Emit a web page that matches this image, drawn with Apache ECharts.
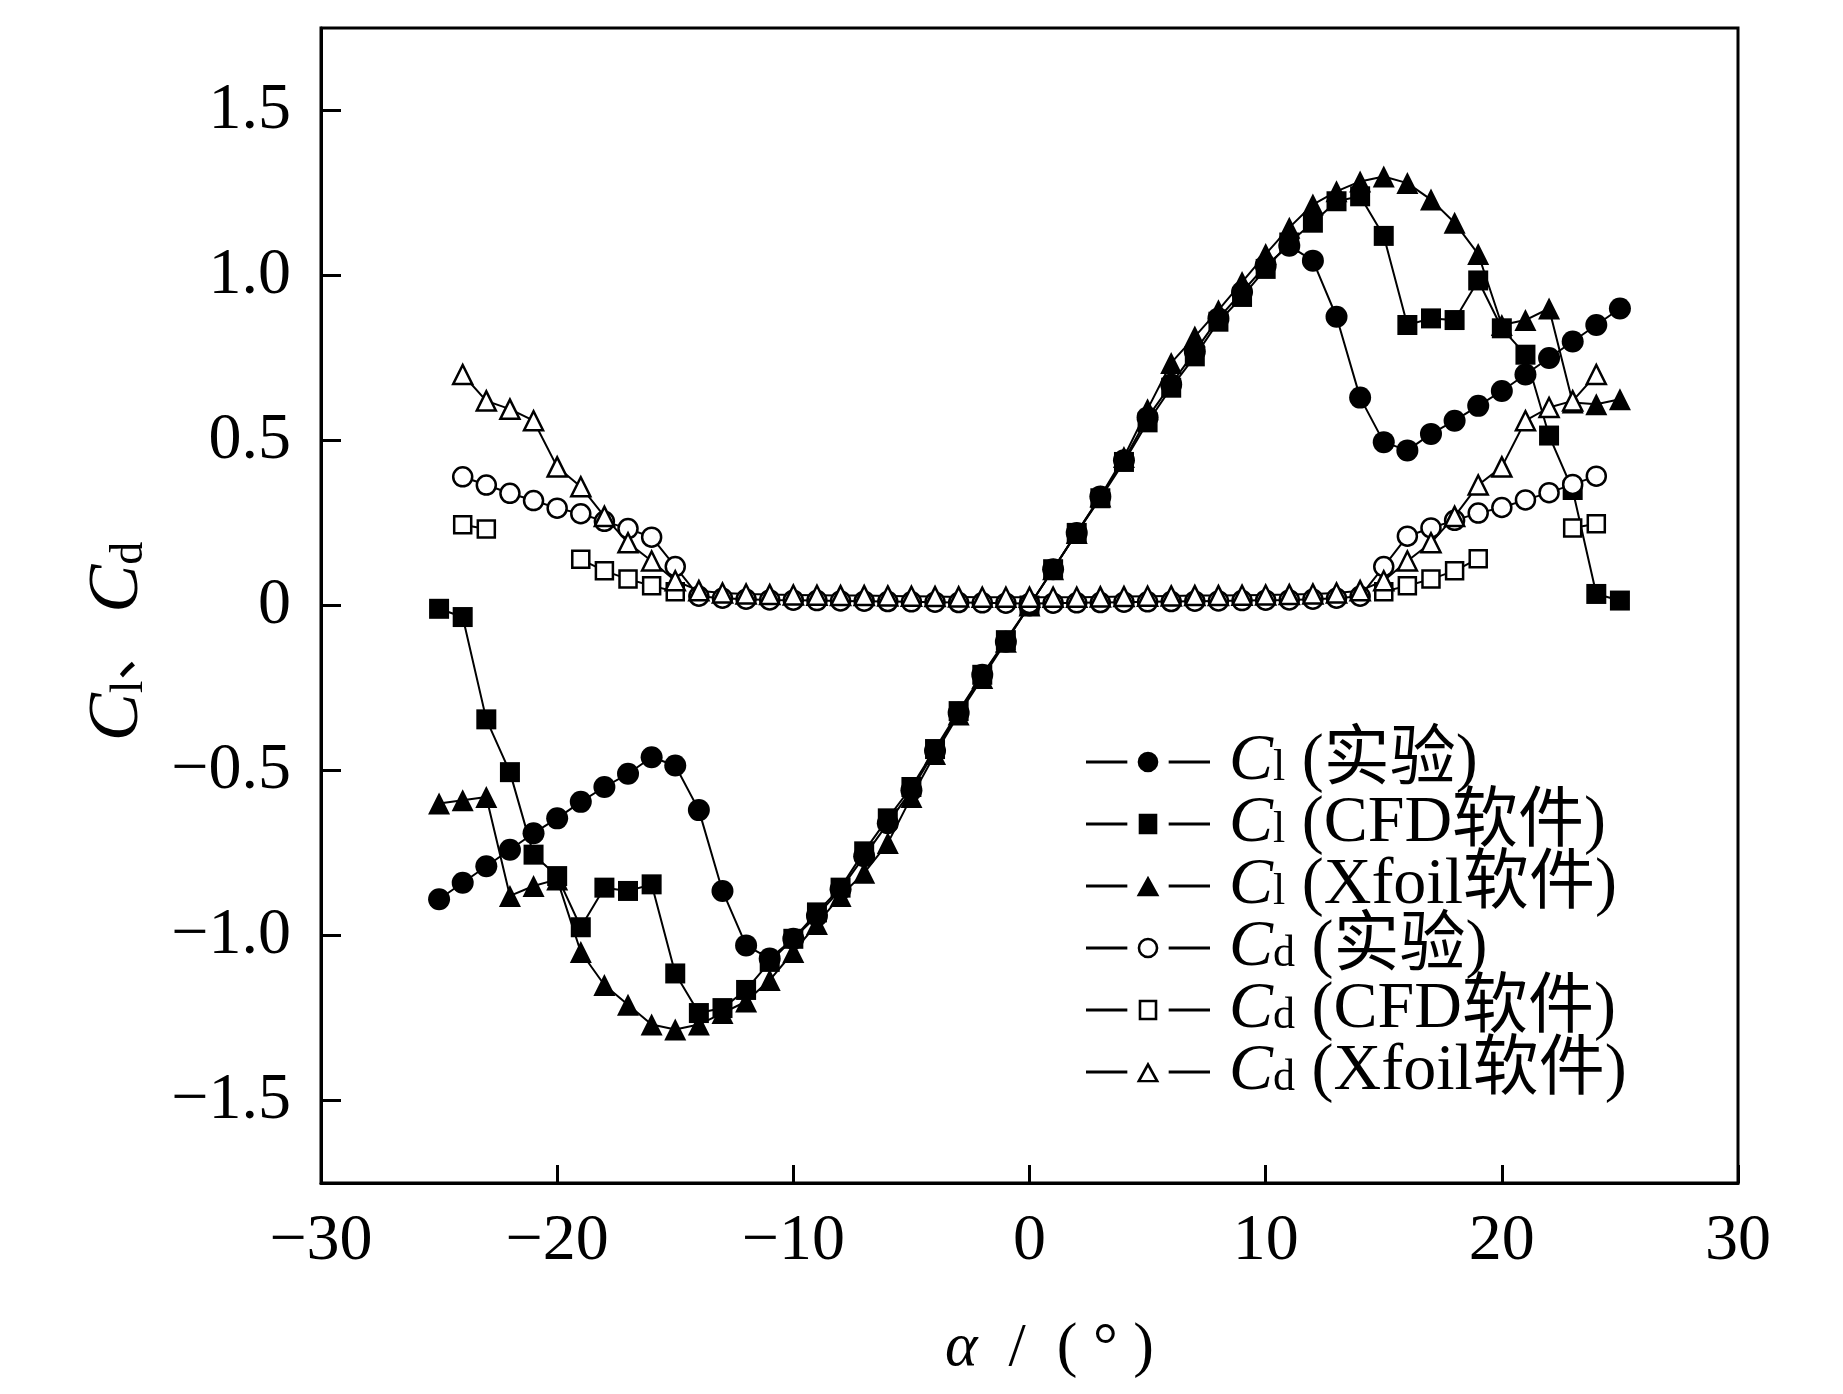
<!DOCTYPE html>
<html>
<head>
<meta charset="utf-8">
<script src="https://cdn.jsdelivr.net/npm/echarts@6/dist/echarts.min.js"></script>
<style>
  html, body { margin: 0; padding: 0; background: #fff; }
  #chart { width: 1843px; height: 1394px; }
</style>
</head>
<body>
<div id="chart"></div>
<script>
// angle of attack, degrees
const alpha = [-25, -24, -23, -22, -21, -20, -19, -18, -17, -16, -15, -14, -13, -12, -11, -10, -9, -8, -7, -6, -5, -4, -3, -2, -1,
  0, 1, 2, 3, 4, 5, 6, 7, 8, 9, 10, 11, 12, 13, 14, 15, 16, 17, 18, 19, 20, 21, 22, 23, 24, 25];

// lift coefficient
const clExp = [-0.89, -0.84, -0.79, -0.74, -0.69, -0.645, -0.595, -0.55, -0.51, -0.46, -0.485, -0.62, -0.865, -1.03, -1.07,
  -1.01, -0.94, -0.86, -0.76, -0.66, -0.56, -0.44, -0.325, -0.21, -0.11,
  0.0, 0.11, 0.22, 0.33, 0.44, 0.57, 0.67, 0.77, 0.87, 0.95, 1.03, 1.09, 1.045, 0.875, 0.63,
  0.495, 0.47, 0.52, 0.56, 0.605, 0.65, 0.70, 0.75, 0.80, 0.85, 0.90];
const clCfd = [-0.01, -0.035, -0.345, -0.505, -0.755, -0.82, -0.975, -0.855, -0.865, -0.845, -1.115, -1.235, -1.22, -1.165, -1.08,
  -1.01, -0.93, -0.855, -0.745, -0.645, -0.55, -0.435, -0.32, -0.21, -0.105,
  0.0, 0.11, 0.22, 0.325, 0.435, 0.555, 0.66, 0.755, 0.86, 0.935, 1.02, 1.10, 1.16, 1.225, 1.24,
  1.12, 0.85, 0.87, 0.865, 0.985, 0.84, 0.76, 0.515, 0.35, 0.035, 0.015];
const clXfoil = [-0.60, -0.59, -0.58, -0.88, -0.85, -0.83, -1.05, -1.15, -1.21, -1.27, -1.285, -1.27, -1.235, -1.20, -1.135,
  -1.05, -0.965, -0.88, -0.81, -0.72, -0.58, -0.45, -0.33, -0.22, -0.11,
  0.0, 0.11, 0.22, 0.33, 0.45, 0.595, 0.735, 0.815, 0.895, 0.98, 1.065, 1.145, 1.215, 1.255, 1.285,
  1.30, 1.28, 1.23, 1.16, 1.065, 0.85, 0.865, 0.90, 0.615, 0.61, 0.625];

// drag coefficient
const cdExp = [null, 0.39, 0.365, 0.34, 0.318, 0.295, 0.278, 0.255, 0.233, 0.207, 0.118, 0.028, 0.022, 0.019, 0.017,
  0.016, 0.015, 0.014, 0.013, 0.012, 0.011, 0.010, 0.009, 0.008, 0.007,
  0.006, 0.007, 0.008, 0.009, 0.010, 0.011, 0.012, 0.013, 0.014, 0.015, 0.016, 0.017, 0.019, 0.022, 0.028,
  0.118, 0.21, 0.235, 0.258, 0.28, 0.297, 0.32, 0.342, 0.367, 0.392, null];
const cdCfd = [null, 0.245, 0.232, null, null, null, 0.14, 0.105, 0.08, 0.06, 0.042, null, null, null, null,
  null, null, null, null, null, null, null, null, null, null,
  null, null, null, null, null, null, null, null, null, null, null, null, null, null, null,
  0.042, 0.06, 0.08, 0.105, 0.142, null, null, null, 0.235, 0.248, null];
const cdXfoil = [null, 0.70, 0.62, 0.595, 0.56, 0.42, 0.36, 0.27, 0.19, 0.135, 0.075, 0.045, 0.038, 0.035, 0.033,
  0.032, 0.031, 0.030, 0.030, 0.029, 0.028, 0.027, 0.026, 0.025, 0.025,
  0.025, 0.025, 0.025, 0.026, 0.027, 0.028, 0.029, 0.030, 0.030, 0.031, 0.032, 0.033, 0.035, 0.038, 0.045,
  0.075, 0.135, 0.19, 0.27, 0.365, 0.42, 0.56, 0.60, 0.62, 0.70, null];

const yTicks = [-1.5, -1.0, -0.5, 0, 0.5, 1.0, 1.5];

const serif = "'Liberation Serif', 'Times New Roman', 'Noto Sans CJK SC', serif";
const cjk = "'Liberation Serif', 'Noto Sans CJK SC', serif";

// legend icons "— marker —" drawn in a 120 x 20 box
const seg = 'M0,8.5H40V11.5H0Z M80,8.5H120V11.5H80Z ';
const icons = {
  circle: seg + 'M50,10A10,10 0 1,0 70,10A10,10 0 1,0 50,10Z',
  rect: seg + 'M51,0H69V20H51Z',
  triangle: seg + 'M60,0L71,20L49,20Z',
  emptyCircle: seg + 'M50,10A10,10 0 1,0 70,10A10,10 0 1,0 50,10Z M52.5,10A7.5,7.5 0 1,1 67.5,10A7.5,7.5 0 1,1 52.5,10Z',
  emptyRect: seg + 'M51,0H69V20H51Z M53.5,2.5V17.5H66.5V2.5Z',
  emptyTriangle: seg + 'M60,0L71,20L49,20Z M60,5.5L53.2,17.8L66.8,17.8Z'
};

function pairs(vals) {
  return alpha.map((a, i) => [a, vals[i]]);
}

function mkSeries(name, vals, symbol, size, hollow) {
  return {
    name: name,
    type: 'line',
    data: pairs(vals),
    symbol: symbol,
    symbolSize: size,
    showAllSymbol: true,
    connectNulls: false,
    lineStyle: { color: '#000', width: 2 },
    itemStyle: hollow ? { color: '#fff', borderColor: '#000', borderWidth: 2.5 } : { color: '#000' },
    emphasis: { disabled: true }
  };
}

const legendItems = [
  { name: 'Cl (实验)', label: '{c|C}{s|l}{t| (实验)}', icon: icons.circle },
  { name: 'Cl (CFD软件)', label: '{c|C}{s|l}{t| (CFD软件)}', icon: icons.rect },
  { name: 'Cl (Xfoil软件)', label: '{c|C}{s|l}{t| (Xfoil软件)}', icon: icons.triangle },
  { name: 'Cd (实验)', label: '{c|C}{s|d}{t| (实验)}', icon: icons.emptyCircle },
  { name: 'Cd (CFD软件)', label: '{c|C}{s|d}{t| (CFD软件)}', icon: icons.emptyRect },
  { name: 'Cd (Xfoil软件)', label: '{c|C}{s|d}{t| (Xfoil软件)}', icon: icons.emptyTriangle }
];

const option = {
  animation: false,
  backgroundColor: '#fff',
  grid: {
    left: 321, top: 28, right: 105, bottom: 211,
    show: true, borderColor: '#000', borderWidth: 3
  },
  legend: {
    orient: 'vertical',
    left: 1081, top: 724,
    itemWidth: 124, itemHeight: 20.7, itemGap: -4,
    data: legendItems.map(d => ({
      name: d.name,
      icon: 'path://' + d.icon,
      itemStyle: { color: '#000', borderWidth: 0 }
    })),
    formatter: name => legendItems.find(d => d.name === name).label,
    textStyle: {
      padding: [0, 0, 0, 14],
      rich: {
        c: { fontFamily: serif, fontStyle: 'italic', fontSize: 66, color: '#000', lineHeight: 57 },
        s: { fontFamily: serif, fontSize: 44, color: '#000', verticalAlign: 'bottom', lineHeight: 57 },
        t: { fontFamily: cjk, fontSize: 66, color: '#000', lineHeight: 57 }
      }
    }
  },
  xAxis: {
    type: 'value',
    min: -30, max: 30, interval: 10,
    name: '{i|α}{n|  /  ( }{d|°}{n| )}',
    nameLocation: 'middle',
    nameGap: 135,
    nameTextStyle: {
      padding: [0, 0, 0, 40],
      rich: {
        i: { fontFamily: serif, fontStyle: 'italic', fontSize: 62, color: '#000' },
        n: { fontFamily: serif, fontSize: 62, color: '#000' },
        d: { fontFamily: serif, fontSize: 62, color: '#000' }
      }
    },
    axisLine: { onZero: false, lineStyle: { color: '#000', width: 3 } },
    axisTick: { inside: true, length: 18, lineStyle: { color: '#000', width: 3 } },
    axisLabel: {
      margin: 26,
      fontFamily: serif, fontSize: 66, color: '#000',
      formatter: v => String(v).replace('-', '\u2212')
    },
    splitLine: { show: false }
  },
  yAxis: {
    type: 'value',
    min: -1.75, max: 1.75,
    name: '{c|C}{s|l}{n|、 }{c|C}{s|d}',
    nameLocation: 'middle',
    nameGap: 168,
    nameTextStyle: {
      padding: [0, 72, 0, 0],
      rich: {
        c: { fontFamily: serif, fontStyle: 'italic', fontSize: 72, color: '#000', lineHeight: 70 },
        s: { fontFamily: serif, fontSize: 46, color: '#000', verticalAlign: 'bottom', lineHeight: 70 },
        n: { fontFamily: cjk, fontSize: 54, color: '#000', lineHeight: 70 }
      }
    },
    axisLine: { onZero: false, lineStyle: { color: '#000', width: 3 } },
    axisTick: { inside: true, length: 20, customValues: yTicks, lineStyle: { color: '#000', width: 3 } },
    axisLabel: {
      margin: 30,
      customValues: yTicks,
      fontFamily: serif, fontSize: 66, color: '#000',
      formatter: v => (v === 0 ? '0' : v.toFixed(1).replace('-', '\u2212'))
    },
    splitLine: { show: false }
  },
  series: [
    mkSeries('Cl (实验)', clExp, 'circle', 22, false),
    mkSeries('Cl (CFD软件)', clCfd, 'rect', 20, false),
    mkSeries('Cl (Xfoil软件)', clXfoil, 'triangle', 22, false),
    mkSeries('Cd (实验)', cdExp, 'circle', 19, true),
    mkSeries('Cd (CFD软件)', cdCfd, 'rect', 17, true),
    mkSeries('Cd (Xfoil软件)', cdXfoil, 'triangle', 19, true)
  ]
};

const chart = echarts.init(document.getElementById('chart'));
chart.setOption(option);
</script>
</body>
</html>
